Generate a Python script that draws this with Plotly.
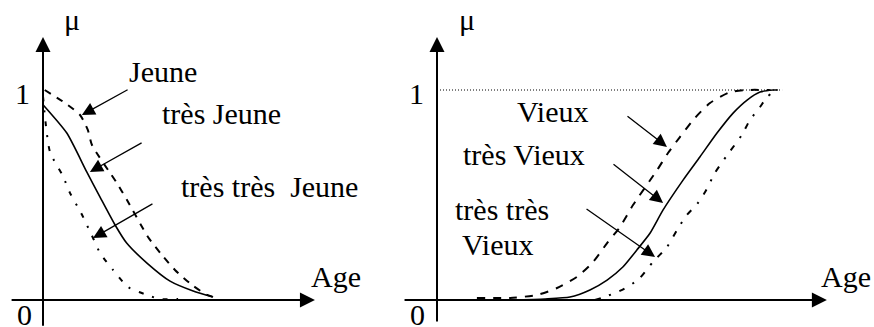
import plotly.graph_objects as go

# ---------------- data (age in years, membership mu) ----------------
# Left panel: Jeune (dashed), très Jeune (solid), très très Jeune (dash-dot)
jeune_age = [0.5, 6.3, 10.6, 12.8, 14.0, 21.1, 24.0, 30.0, 34.0, 37.7, 42.6, 46.9, 49.7]
jeune_mu = [1.0, 0.938, 0.881, 0.81, 0.738, 0.557, 0.476, 0.300, 0.214, 0.143, 0.071, 0.024, 0.01]

tres_jeune_age = [0.0, 6.8, 12.5, 16.3, 20.6, 23.9, 29.7, 36.3, 42.9, 48.6]
tres_jeune_mu = [0.93, 0.795, 0.610, 0.490, 0.357, 0.271, 0.176, 0.090, 0.043, 0.014]

tt_jeune_age = [0.0, 2.0, 5.7, 7.7, 10.9, 14.3, 16.3, 20.0, 24.3, 29.7, 33.4, 38.6]
tt_jeune_mu = [0.97, 0.705, 0.590, 0.510, 0.414, 0.295, 0.224, 0.143, 0.062, 0.024, 0.005, 0.005]

# Right panel: Vieux (dashed), très Vieux (solid), très très Vieux (dash-dot)
vieux_age = [11.4, 20.9, 28.6, 34.3, 40.0, 44.6, 48.6, 52.3, 56.0, 62.9, 66.0, 69.4,
             73.7, 78.0, 83.7, 88.6, 95.1]
vieux_mu = [0.01, 0.01, 0.024, 0.057, 0.110, 0.181, 0.271, 0.348, 0.452, 0.619, 0.700,
            0.776, 0.867, 0.938, 0.990, 1.0, 1.0]

tres_vieux_age = [20.9, 30.9, 38.0, 43.7, 48.6, 53.1, 57.1, 60.9, 64.6, 70.3, 75.1,
                  80.0, 84.6, 88.6, 92.3, 96.0, 97.4]
tres_vieux_mu = [0.0, 0.005, 0.014, 0.048, 0.095, 0.157, 0.238, 0.319, 0.429, 0.571,
                 0.681, 0.795, 0.890, 0.952, 0.990, 1.0, 1.0]

tt_vieux_age = [45.1, 47.1, 52.9, 57.7, 61.7, 65.7, 68.9, 71.4, 74.3, 76.6, 79.4, 82.9,
                87.1, 89.4, 92.3, 94.3, 96.9]
tt_vieux_mu = [0.0, 0.01, 0.048, 0.10, 0.181, 0.252, 0.343, 0.405, 0.457, 0.514, 0.605,
               0.690, 0.786, 0.857, 0.919, 0.967, 1.0]

# reference line mu = 1 on right panel
ref_age = [0.0, 98.6]
ref_mu = [1.0, 1.0]

FONT = "Liberation Serif"
FS = 30

fig = go.Figure()

def curve(x, y, dash, width, axis):
    fig.add_trace(go.Scatter(
        x=x, y=y, mode="lines", xaxis=axis, yaxis="y",
        line=dict(color="black", width=width, dash=dash, shape="spline", smoothing=0.6),
        showlegend=False, hoverinfo="skip"))

curve(jeune_age, jeune_mu, "7px,7px", 2, "x")
curve(tres_jeune_age, tres_jeune_mu, "solid", 1.6, "x")
curve(tt_jeune_age, tt_jeune_mu, "5px,9px,2px,9px", 2, "x")

curve(vieux_age, vieux_mu, "8px,8px", 2, "x2")
curve(tres_vieux_age, tres_vieux_mu, "solid", 1.6, "x2")
curve(tt_vieux_age, tt_vieux_mu, "6px,9px,2px,9px", 2, "x2")

fig.add_trace(go.Scatter(x=ref_age, y=ref_mu, mode="lines", xaxis="x2", yaxis="y",
                         line=dict(color="black", width=1, dash="1px,2px"),
                         showlegend=False, hoverinfo="skip"))

annotations = []

def arrow(xref, tip, tail, width, size):
    annotations.append(dict(
        x=tip[0], y=tip[1], ax=tail[0], ay=tail[1],
        xref=xref, yref="y", axref=xref, ayref="y",
        text="", showarrow=True, arrowhead=2, arrowwidth=width,
        arrowsize=size, arrowcolor="black", standoff=0, startstandoff=0))

def label(xref, x, y, text):
    annotations.append(dict(
        x=x, y=y, xref=xref, yref="y", text=text, showarrow=False,
        xanchor="center", yanchor="middle",
        font=dict(family=FONT, size=FS, color="black")))

# axes with arrowheads
arrow("x", (0, 1.252), (0, -0.13), 2, 1.5)
arrow("x", (77.7, 0), (-9.4, 0), 2, 1.5)
arrow("x2", (0, 1.252), (0, -0.11), 2, 1.5)
arrow("x2", (111.4, 0), (-9.7, 0), 2, 1.5)

# label arrows
arrow("x", (11.1, 0.881), (24.6, 1.005), 1.3, 2.0)
arrow("x", (13.4, 0.610), (28.6, 0.752), 1.3, 2.0)
arrow("x", (14.3, 0.295), (31.7, 0.462), 1.3, 2.0)
arrow("x2", (65.7, 0.729), (54.0, 0.881), 1.3, 2.0)
arrow("x2", (64.6, 0.462), (50.0, 0.652), 1.3, 2.0)
arrow("x2", (62.3, 0.205), (42.3, 0.438), 1.3, 2.0)

# text labels
label("x", 8.4, 1.338, "μ")
label("x", -6.0, 0.985, "1")
label("x", -5.4, -0.068, "0")
label("x", 83.7, 0.112, "Age")
label("x", 34.3, 1.086, "Jeune")
label("x", 51.1, 0.886, "très Jeune")
label("x", 64.6, 0.540, "très très  Jeune")

label("x2", 8.6, 1.338, "μ")
label("x2", -6.0, 0.985, "1")
label("x2", -5.7, -0.068, "0")
label("x2", 116.9, 0.112, "Age")
label("x2", 33.0, 0.900, "Vieux")
label("x2", 24.9, 0.695, "très Vieux")
label("x2", 18.7, 0.429, "très très")
label("x2", 17.3, 0.262, "Vieux")

hidden = dict(visible=False, showgrid=False, zeroline=False, fixedrange=True)
fig.update_layout(
    width=874, height=327,
    margin=dict(l=0, r=0, t=0, b=0),
    paper_bgcolor="white", plot_bgcolor="white",
    xaxis=dict(domain=[0, 400 / 874], range=[-43 / 3.5, (400 - 43) / 3.5], **hidden),
    xaxis2=dict(domain=[400 / 874, 1], range=[-37 / 3.5, (874 - 437) / 3.5], **hidden),
    yaxis=dict(domain=[0, 1], range=[-27 / 210, 300 / 210], **hidden),
    annotations=annotations,
    showlegend=False,
)

fig.write_html(
    "out.html",
    config={"displayModeBar": False},
    post_script="document.body.style.margin='0';document.body.style.overflow='hidden';",
)
